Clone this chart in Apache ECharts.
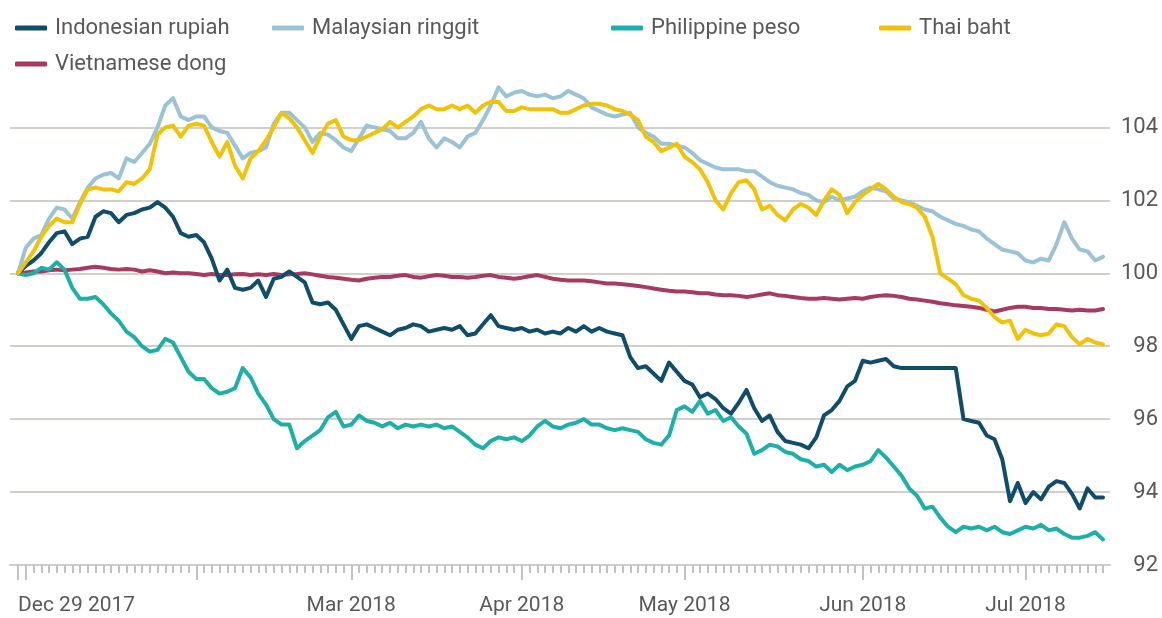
<!DOCTYPE html>
<html>
<head>
<meta charset="utf-8">
<title>ASEAN currencies vs US dollar</title>
<script src="https://cdn.jsdelivr.net/npm/echarts@6/dist/echarts.min.js"></script>
<style>
  html, body { margin: 0; padding: 0; background: #fff; }
  #chart { width: 1162px; height: 618px; }
</style>
</head>
<body>
<div id="chart"></div>
<script>
// trading days (weekdays, Jan 1 excluded)
const dates = [
  "2017-12-29",
  "2018-01-02", "2018-01-03", "2018-01-04", "2018-01-05", "2018-01-08", "2018-01-09", "2018-01-10", "2018-01-11", "2018-01-12",
  "2018-01-15", "2018-01-16", "2018-01-17", "2018-01-18", "2018-01-19", "2018-01-22", "2018-01-23", "2018-01-24", "2018-01-25",
  "2018-01-26", "2018-01-29", "2018-01-30", "2018-01-31",
  "2018-02-01", "2018-02-02", "2018-02-05", "2018-02-06", "2018-02-07", "2018-02-08", "2018-02-09", "2018-02-12", "2018-02-13",
  "2018-02-14", "2018-02-15", "2018-02-16", "2018-02-19", "2018-02-20", "2018-02-21", "2018-02-22", "2018-02-23", "2018-02-26",
  "2018-02-27", "2018-02-28",
  "2018-03-01", "2018-03-02", "2018-03-05", "2018-03-06", "2018-03-07", "2018-03-08", "2018-03-09", "2018-03-12", "2018-03-13",
  "2018-03-14", "2018-03-15", "2018-03-16", "2018-03-19", "2018-03-20", "2018-03-21", "2018-03-22", "2018-03-23", "2018-03-26",
  "2018-03-27", "2018-03-28", "2018-03-29", "2018-03-30",
  "2018-04-02", "2018-04-03", "2018-04-04", "2018-04-05", "2018-04-06", "2018-04-09", "2018-04-10", "2018-04-11", "2018-04-12",
  "2018-04-13", "2018-04-16", "2018-04-17", "2018-04-18", "2018-04-19", "2018-04-20", "2018-04-23", "2018-04-24", "2018-04-25",
  "2018-04-26", "2018-04-27", "2018-04-30",
  "2018-05-01", "2018-05-02", "2018-05-03", "2018-05-04", "2018-05-07", "2018-05-08", "2018-05-09", "2018-05-10", "2018-05-11",
  "2018-05-14", "2018-05-15", "2018-05-16", "2018-05-17", "2018-05-18", "2018-05-21", "2018-05-22", "2018-05-23", "2018-05-24",
  "2018-05-25", "2018-05-28", "2018-05-29", "2018-05-30", "2018-05-31",
  "2018-06-01", "2018-06-04", "2018-06-05", "2018-06-06", "2018-06-07", "2018-06-08", "2018-06-11", "2018-06-12", "2018-06-13",
  "2018-06-14", "2018-06-15", "2018-06-18", "2018-06-19", "2018-06-20", "2018-06-21", "2018-06-22", "2018-06-25", "2018-06-26",
  "2018-06-27", "2018-06-28", "2018-06-29",
  "2018-07-02", "2018-07-03", "2018-07-04", "2018-07-05", "2018-07-06", "2018-07-09", "2018-07-10", "2018-07-11", "2018-07-12",
  "2018-07-13", "2018-07-16"
];

// long ticks (month starts) and labelled ticks
const longTickDates = ["2017-12-29", "2018-01-02", "2018-02-01", "2018-03-01", "2018-04-02", "2018-05-01", "2018-06-01", "2018-07-02"];
const tickLabelDates = ["2017-12-29", "2018-03-01", "2018-04-02", "2018-05-01", "2018-06-01", "2018-07-02"];
const tickLabels = ["Dec 29 2017", "Mar 2018", "Apr 2018", "May 2018", "Jun 2018", "Jul 2018"];

// rebased to 100
const rupiah = [
  100.0, 100.2, 100.35, 100.55, 100.85, 101.1, 101.15, 100.8, 100.95, 101.0,
  101.55, 101.7, 101.65, 101.4, 101.6, 101.65, 101.75, 101.8, 101.95, 101.8,
  101.55, 101.1, 101.0, 101.05, 100.85, 100.4, 99.8, 100.1, 99.6, 99.55,
  99.6, 99.8, 99.35, 99.85, 99.9, 100.05, 99.9, 99.75, 99.2, 99.15,
  99.2, 99.0, 98.6, 98.2, 98.55, 98.6, 98.5, 98.4, 98.3, 98.45,
  98.5, 98.6, 98.55, 98.4, 98.45, 98.5, 98.45, 98.55, 98.3, 98.35,
  98.6, 98.85, 98.55, 98.5, 98.45, 98.5, 98.4, 98.45, 98.35, 98.4,
  98.35, 98.5, 98.4, 98.55, 98.4, 98.5, 98.4, 98.35, 98.3, 97.7,
  97.4, 97.45, 97.25, 97.05, 97.55, 97.3, 97.05, 96.95, 96.6, 96.7,
  96.55, 96.3, 96.15, 96.45, 96.8, 96.3, 95.95, 96.1, 95.65, 95.4,
  95.35, 95.3, 95.2, 95.5, 96.1, 96.25, 96.5, 96.9, 97.05, 97.6,
  97.55, 97.6, 97.65, 97.45, 97.4, 97.4, 97.4, 97.4, 97.4, 97.4,
  97.4, 97.4, 96.0, 95.95, 95.9, 95.55, 95.45, 94.9, 93.75, 94.25,
  93.7, 94.0, 93.8, 94.15, 94.3, 94.25, 93.95, 93.55, 94.1, 93.85,
  93.85
];
const ringgit = [
  100.0, 100.7, 100.95, 101.05, 101.5, 101.8, 101.75, 101.5, 101.95, 102.35,
  102.6, 102.7, 102.75, 102.6, 103.15, 103.05, 103.3, 103.55, 104.0, 104.6,
  104.8, 104.3, 104.2, 104.3, 104.3, 104.0, 103.9, 103.85, 103.5, 103.15,
  103.3, 103.35, 103.45, 104.1, 104.4, 104.4, 104.2, 104.0, 103.6, 103.85,
  103.8, 103.65, 103.45, 103.35, 103.7, 104.05, 104.0, 103.95, 103.9, 103.7,
  103.7, 103.85, 104.15, 103.7, 103.45, 103.7, 103.6, 103.45, 103.75, 103.85,
  104.2, 104.6, 105.1, 104.85, 104.95, 105.0, 104.9, 104.85, 104.9, 104.8,
  104.85, 105.0, 104.9, 104.8, 104.55, 104.45, 104.35, 104.3, 104.35, 104.4,
  104.0, 103.85, 103.75, 103.55, 103.55, 103.5, 103.45, 103.3, 103.1, 103.0,
  102.9, 102.85, 102.85, 102.85, 102.8, 102.8, 102.65, 102.5, 102.4, 102.35,
  102.3, 102.2, 102.15, 102.0, 101.95, 102.1, 102.0, 102.05, 102.1, 102.25,
  102.35, 102.3, 102.25, 102.05, 102.0, 101.95, 101.85, 101.75, 101.7, 101.55,
  101.45, 101.35, 101.3, 101.2, 101.15, 100.95, 100.8, 100.65, 100.6, 100.55,
  100.35, 100.3, 100.4, 100.35, 100.8, 101.4, 100.95, 100.65, 100.6, 100.35,
  100.45
];
const peso = [
  100.0, 99.95, 100.0, 100.15, 100.1, 100.3, 100.1, 99.6, 99.3, 99.3,
  99.35, 99.15, 98.9, 98.7, 98.4, 98.25, 98.0, 97.85, 97.9, 98.2,
  98.1, 97.7, 97.3, 97.1, 97.1, 96.85, 96.7, 96.75, 96.85, 97.4,
  97.15, 96.7, 96.4, 96.0, 95.85, 95.85, 95.2, 95.4, 95.55, 95.7,
  96.05, 96.2, 95.8, 95.85, 96.1, 95.95, 95.9, 95.8, 95.9, 95.75,
  95.85, 95.8, 95.85, 95.8, 95.85, 95.75, 95.8, 95.65, 95.5, 95.3,
  95.2, 95.4, 95.5, 95.45, 95.5, 95.4, 95.55, 95.8, 95.95, 95.8,
  95.75, 95.85, 95.9, 96.0, 95.85, 95.85, 95.75, 95.7, 95.75, 95.7,
  95.65, 95.45, 95.35, 95.3, 95.55, 96.25, 96.35, 96.2, 96.5, 96.15,
  96.25, 95.95, 96.05, 95.8, 95.6, 95.05, 95.15, 95.3, 95.25, 95.1,
  95.05, 94.9, 94.85, 94.7, 94.75, 94.55, 94.75, 94.6, 94.7, 94.75,
  94.85, 95.15, 94.95, 94.7, 94.45, 94.1, 93.9, 93.55, 93.6, 93.3,
  93.05, 92.9, 93.05, 93.0, 93.05, 92.95, 93.05, 92.9, 92.85, 92.95,
  93.05, 93.0, 93.1, 92.95, 93.0, 92.85, 92.75, 92.75, 92.8, 92.9,
  92.7
];
const baht = [
  100.0, 100.3, 100.6, 101.0, 101.3, 101.5, 101.4, 101.4, 101.9, 102.3,
  102.35, 102.3, 102.3, 102.25, 102.5, 102.45, 102.6, 102.85, 103.8, 104.0,
  104.05, 103.75, 104.05, 104.1, 104.05, 103.6, 103.2, 103.6, 102.95, 102.6,
  103.15, 103.35, 103.65, 104.0, 104.4, 104.25, 104.0, 103.65, 103.3, 103.75,
  104.1, 104.2, 103.75, 103.65, 103.65, 103.75, 103.85, 103.95, 104.15, 104.0,
  104.15, 104.3, 104.5, 104.6, 104.5, 104.5, 104.6, 104.5, 104.6, 104.4,
  104.6, 104.7, 104.7, 104.45, 104.45, 104.55, 104.5, 104.5, 104.5, 104.5,
  104.4, 104.4, 104.5, 104.6, 104.65, 104.65, 104.6, 104.5, 104.45, 104.35,
  104.2, 103.75, 103.6, 103.35, 103.45, 103.55, 103.2, 103.05, 102.85, 102.5,
  102.0, 101.75, 102.2, 102.5, 102.55, 102.3, 101.75, 101.85, 101.6, 101.45,
  101.75, 101.9, 101.8, 101.6, 102.0, 102.3, 102.15, 101.65, 101.95, 102.15,
  102.3, 102.45, 102.3, 102.1, 101.95, 101.9, 101.8, 101.55, 101.0, 100.0,
  99.85, 99.7, 99.4, 99.3, 99.25, 99.05, 98.8, 98.65, 98.7, 98.2,
  98.45, 98.35, 98.3, 98.35, 98.6, 98.55, 98.25, 98.05, 98.2, 98.1,
  98.05
];
const dong = [
  100.0, 100.02, 100.05, 100.05, 100.08, 100.1, 100.08, 100.1, 100.12, 100.15,
  100.18, 100.15, 100.12, 100.1, 100.12, 100.1, 100.05, 100.08, 100.05, 100.0,
  100.02, 100.0, 100.0, 99.98, 99.95, 99.98, 99.95, 99.95, 99.97, 99.98,
  99.95, 99.97, 99.95, 99.98, 99.95, 99.97, 99.98, 100.0, 99.97, 99.93,
  99.9, 99.88, 99.85, 99.82, 99.8, 99.85, 99.88, 99.9, 99.9, 99.93,
  99.95, 99.9, 99.88, 99.92, 99.95, 99.93, 99.9, 99.9, 99.88, 99.9,
  99.93, 99.95, 99.9, 99.88, 99.85, 99.88, 99.92, 99.95, 99.9, 99.85,
  99.82, 99.8, 99.8, 99.8, 99.78, 99.75, 99.72, 99.72, 99.7, 99.68,
  99.65, 99.62, 99.58, 99.55, 99.52, 99.5, 99.5, 99.48, 99.45, 99.45,
  99.42, 99.4, 99.4, 99.38, 99.35, 99.38, 99.42, 99.45, 99.4, 99.38,
  99.35, 99.32, 99.3, 99.3, 99.32, 99.3, 99.28, 99.3, 99.32, 99.3,
  99.35, 99.38, 99.4, 99.38, 99.35, 99.3, 99.28, 99.25, 99.22, 99.18,
  99.15, 99.12, 99.1, 99.08, 99.05, 99.0, 98.95, 99.0, 99.05, 99.08,
  99.08, 99.05, 99.05, 99.02, 99.02, 99.0, 98.98, 99.0, 98.98, 98.98,
  99.02
];

const font = "Roboto";
const textColor = "#595959";
const gridColor = "#d3cec8";

const chart = echarts.init(document.getElementById("chart"));

function lineSeries(name, data, color) {
  return {
    name: name,
    type: "line",
    xAxisIndex: 1,
    yAxisIndex: 1,
    data: data,
    color: color,
    symbol: "none",
    showSymbol: false,
    lineStyle: { width: 4, color: color, join: "round", cap: "round" }
  };
}

function legendItem(name, left, top) {
  return {
    data: [name],
    left: left,
    top: top,
    icon: "roundRect",
    itemWidth: 32,
    itemHeight: 5,
    selectedMode: false,
    textStyle: { fontFamily: font, fontSize: 22, color: textColor, padding: [0, 0, 0, 3] }
  };
}

chart.setOption({
  backgroundColor: "#ffffff",
  animation: false,
  legend: [
    legendItem("Indonesian rupiah", 10, 12),
    legendItem("Malaysian ringgit", 267, 12),
    legendItem("Philippine peso", 606, 12),
    legendItem("Thai baht", 874, 12),
    legendItem("Vietnamese dong", 10, 48)
  ],
  grid: [
    // background grid: gridlines, y labels, base line
    { left: 10, right: 52, top: 80, bottom: 53 },
    // data grid
    { left: 18, right: 59, top: 80, bottom: 53 }
  ],
  xAxis: [
    {
      gridIndex: 0,
      type: "value",
      position: "bottom",
      min: 0,
      max: 1,
      axisLine: { show: true, lineStyle: { color: "#cdcdcd", width: 2 } },
      axisTick: { show: false },
      axisLabel: { show: false },
      splitLine: { show: false }
    },
    {
      gridIndex: 1,
      type: "category",
      position: "bottom",
      data: dates,
      boundaryGap: false,
      axisLine: { show: false },
      axisTick: { show: true, interval: 0, length: 8, lineStyle: { color: "#c2c2c2", width: 2 } },
      axisLabel: { show: false },
      splitLine: { show: false }
    },
    {
      gridIndex: 1,
      type: "category",
      position: "bottom",
      data: dates,
      boundaryGap: false,
      axisLine: { show: false },
      axisTick: {
        show: true,
        interval: (i, v) => longTickDates.includes(v),
        length: 15,
        lineStyle: { color: "#c2c2c2", width: 2 }
      },
      axisLabel: {
        interval: (i, v) => tickLabelDates.includes(v),
        formatter: v => tickLabels[tickLabelDates.indexOf(v)],
        alignMinLabel: "left",
        margin: 30,
        fontFamily: font,
        fontSize: 21,
        color: textColor
      },
      splitLine: { show: false }
    }
  ],
  yAxis: [
    {
      gridIndex: 0,
      type: "value",
      position: "right",
      min: 92,
      max: 105.3,
      interval: 2,
      axisLine: { show: false },
      axisTick: { show: false },
      splitLine: { show: true, showMaxLine: false, lineStyle: { color: gridColor, width: 2 } },
      axisLabel: {
        showMaxLabel: false,
        align: "right",
        margin: 48,
        fontFamily: font,
        fontSize: 22,
        color: textColor
      }
    },
    {
      gridIndex: 1,
      type: "value",
      min: 92,
      max: 105.3,
      show: false
    }
  ],
  series: [
    lineSeries("Malaysian ringgit", ringgit, "#9cc2d6"),
    lineSeries("Vietnamese dong", dong, "#a63a60"),
    lineSeries("Philippine peso", peso, "#1fafa9"),
    lineSeries("Indonesian rupiah", rupiah, "#0f4d6b"),
    lineSeries("Thai baht", baht, "#f1c207")
  ]
});
</script>
</body>
</html>
